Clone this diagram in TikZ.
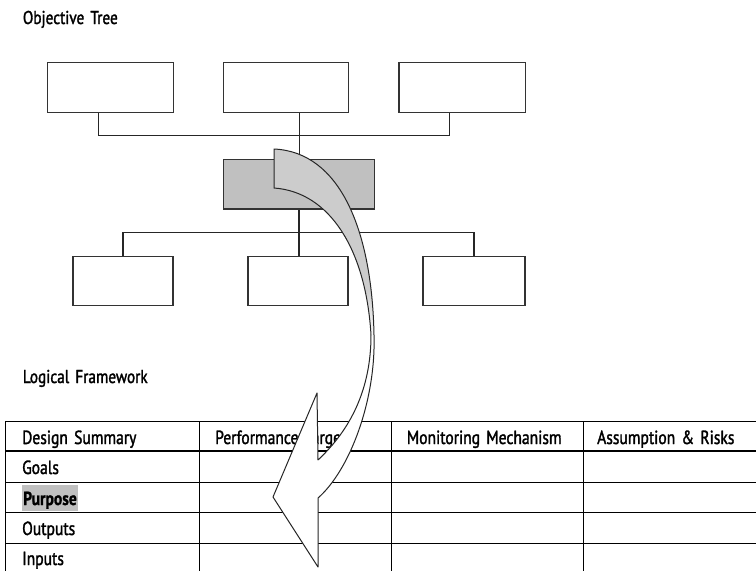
\documentclass[tikz,border=0pt]{standalone}
\usepackage{fontspec}
\setmainfont{PT Sans}[FakeStretch=0.82]
\newfontfamily\heavy{PT Sans}[FakeStretch=0.82, FakeBold=1.6, WordSpace=1.5]
\newfontfamily\heavybold{PT Sans Bold}[FakeStretch=0.82, FakeBold=1, WordSpace=1.5]
\begin{document}
\begin{tikzpicture}[x=1pt,y=-1pt,
  treebox/.style={draw=black!80, line width=1.1pt, fill=white, inner sep=0pt, minimum height=49.5pt},
  keybox/.style={treebox, fill=boxgray},
  link/.style={draw=black!85, line width=1.1pt},
  gridline/.style={draw=black, line width=1.3pt},
  title/.style={anchor=base west, inner sep=0pt, font=\heavy\fontsize{18.6}{20}\selectfont},
  cell/.style={anchor=base west, inner sep=0pt, font=\heavy\fontsize{19}{21}\selectfont},
  ribbon/.style={draw=black!85, line width=1pt}
]
\definecolor{boxgray}{HTML}{C0C0C0}
\definecolor{ribbongray}{HTML}{CCCCCC}
\clip (0,0) rectangle (756,571);
\fill[white] (0,0) rectangle (756,571);

% headings
\node[title] (ttree) at (22.7,24) {Objective Tree};
\node[title] (tlog) at (22.7,383) {Logical Framework};

% objective tree boxes
\node[treebox, minimum width=126pt] (t1) at (110.3,87.3) {};
\node[treebox, minimum width=125pt] (t2) at (285.8,87.3) {};
\node[treebox, minimum width=126.7pt] (t3) at (462.3,87.3) {};
\node[keybox, minimum width=150.7pt] (g) at (298.7,184.2) {};
\node[treebox, minimum width=100pt] (b1) at (123,280.9) {};
\node[treebox, minimum width=100pt] (b2) at (298,280.9) {};
\node[treebox, minimum width=102pt] (b3) at (474,280.9) {};

% junction points of the connectors
\coordinate (dl) at (98.3,135.7);
\coordinate (dm) at (299.3,135.7);
\coordinate (dr) at (449.3,135.7);
\coordinate (jl) at (123,232.3);
\coordinate (jm) at (299,232.3);
\coordinate (jr) at (474,232.3);

\path[link] (t1.south -| dl) -- (dl) -- (dr) -- (t3.south -| dr);
\path[link] (t2.south -| dm) -- (g.north -| dm);
\path[link] (g.south -| jm) -- (b2.north -| jm);
\path[link] (b1.north) -- (jl) -- (jr) -- (b3.north);
% redraw the key box above its connectors
\node[keybox, minimum width=150.7pt] at (g) {};

% logical framework table
\foreach \yy in {421.3,451,482.3,512.5,543.3}
  \draw[gridline] (5.5,\yy) -- (760,\yy);
\foreach \xx in {5.5,199.5,391.3,583.3}
  \draw[gridline] (\xx,421.3) -- (\xx,575);

\node[cell] (hd1) at (22,444) {Design Summary};
\node[cell] (hd2) at (215,444) {Performance Targets};
\node[cell] (hd3) at (406.7,444) {Monitoring Mechanism};
\node[cell] (hd4) at (597,444) {Assumption \& Risks};
\node[cell] (r1) at (22,474) {Goals};
\node[cell, font=\heavybold\fontsize{19}{21}\selectfont, fill=boxgray,
      inner xsep=1pt, inner ysep=0.5pt, text height=20pt, text depth=5.5pt] (r2) at (22,505) {Purpose};
\node[cell] (r3) at (22,535) {Outputs};
\node[cell] (r4) at (22,565) {Inputs};

% curved block arrow from the key box down into the table
\def\ribbonpath{(274,149) .. controls (340,152) and (372,230) .. (374,335)
   .. controls (376,400) and (350,470) .. (318,498)
   -- (318,567) -- (273,497) -- (317,393) -- (318,460)
   .. controls (350,430) and (371,390) .. (371,335)
   .. controls (366,250) and (330,192) .. (274,188) -- cycle}
\fill[white] \ribbonpath;
\begin{scope}
  \clip \ribbonpath;
  \fill[ribbongray] (260,140) rectangle (390,290);
  \shade[top color=ribbongray, bottom color=white] (260,289) rectangle (390,340);
\end{scope}
\draw[ribbon, line join=round] \ribbonpath;
\end{tikzpicture}
\end{document}
